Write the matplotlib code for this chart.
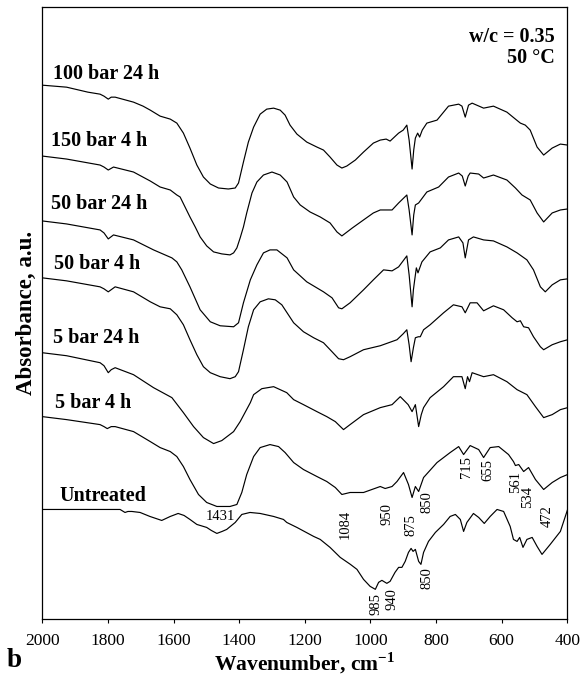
import numpy as np
import matplotlib
matplotlib.use("Agg")
import matplotlib.pyplot as plt

plt.rcParams['font.family'] = ['Liberation Serif', 'DejaVu Serif']
plt.rcParams['mathtext.fontset'] = 'custom'
plt.rcParams['mathtext.rm'] = 'Liberation Serif'
plt.rcParams['mathtext.bf'] = 'Liberation Serif:bold'

# ---------------- data (wavenumber cm-1, absorbance a.u. incl. vertical offsets) ----------
wn_100b24 = [2000, 1926, 1861, 1824, 1812, 1799, 1790, 1778, 1722, 1693, 1671, 1641, 1610, 1590,
             1570, 1550, 1529, 1509, 1488, 1463, 1433, 1412, 1402, 1387, 1372, 1356, 1336, 1316,
             1295, 1275, 1260, 1245, 1224, 1194, 1163, 1143, 1123, 1102, 1087, 1072, 1046, 1021,
             991, 970, 952, 940, 914, 900, 889, 882, 873, 868, 863, 856, 850, 842, 828, 797, 762,
             731, 721, 711, 701, 690, 655, 625, 584, 558, 543, 528, 513, 492, 472, 446, 421, 399]
ab_100b24 = [5.35, 5.33, 5.28, 5.26, 5.24, 5.21, 5.23, 5.23, 5.18, 5.14, 5.10, 5.04, 5.01, 4.97,
             4.87, 4.72, 4.55, 4.43, 4.36, 4.32, 4.31, 4.32, 4.37, 4.58, 4.78, 4.93, 5.06, 5.11,
             5.12, 5.10, 5.05, 4.95, 4.86, 4.78, 4.73, 4.70, 4.63, 4.55, 4.52, 4.54, 4.60, 4.68,
             4.77, 4.80, 4.81, 4.79, 4.87, 4.90, 4.95, 4.80, 4.51, 4.70, 4.82, 4.87, 4.83, 4.90,
             4.97, 5.00, 5.14, 5.16, 5.14, 5.03, 5.15, 5.17, 5.12, 5.14, 5.08, 5.01, 4.97, 4.95,
             4.90, 4.73, 4.65, 4.72, 4.76, 4.75]

wn_150b4 = [2000, 1926, 1824, 1812, 1799, 1783, 1722, 1671, 1641, 1610, 1590, 1580, 1565, 1550,
            1534, 1519, 1499, 1478, 1453, 1428, 1417, 1407, 1397, 1387, 1377, 1361, 1346, 1326,
            1300, 1275, 1254, 1234, 1214, 1184, 1153, 1123, 1102, 1087, 1055, 1021, 991, 970, 934,
            914, 889, 882, 873, 868, 863, 853, 828, 792, 762, 731, 720, 711, 702, 696, 670, 655,
            625, 584, 558, 538, 513, 492, 472, 446, 421, 399]
ab_150b4 = [4.64, 4.61, 4.55, 4.53, 4.50, 4.53, 4.48, 4.39, 4.33, 4.30, 4.25, 4.23, 4.13, 4.03,
            3.93, 3.83, 3.74, 3.68, 3.66, 3.65, 3.67, 3.72, 3.82, 3.93, 4.07, 4.27, 4.38, 4.45,
            4.48, 4.45, 4.38, 4.23, 4.15, 4.08, 4.03, 3.97, 3.88, 3.84, 3.92, 4.00, 4.07, 4.10, 4.10,
            4.17, 4.25, 4.10, 3.85, 4.05, 4.15, 4.17, 4.28, 4.33, 4.43, 4.47, 4.44, 4.34, 4.44, 4.47,
            4.46, 4.42, 4.45, 4.40, 4.32, 4.25, 4.20, 4.07, 3.98, 4.07, 4.10, 4.11]

wn_50b24 = [2000, 1926, 1824, 1812, 1799, 1783, 1722, 1661, 1605, 1590, 1575, 1550, 1519, 1488,
            1458, 1417, 1402, 1387, 1366, 1346, 1326, 1306, 1285, 1254, 1234, 1194, 1143, 1117,
            1097, 1087, 1062, 1021, 991, 960, 934, 914, 889, 882, 873, 869, 865, 860, 855, 843,
            818, 787, 762, 731, 718, 711, 701, 686, 655, 625, 584, 553, 523, 503, 482, 467, 446,
            421, 399]
ab_50b24 = [3.99, 3.96, 3.90, 3.87, 3.81, 3.85, 3.80, 3.70, 3.62, 3.58, 3.50, 3.33, 3.10, 2.98,
            2.94, 2.93, 2.97, 3.17, 3.40, 3.55, 3.67, 3.70, 3.70, 3.62, 3.50, 3.38, 3.28, 3.22,
            3.12, 3.11, 3.17, 3.30, 3.40, 3.50, 3.49, 3.53, 3.64, 3.45, 3.13, 3.30, 3.40, 3.52,
            3.47, 3.58, 3.68, 3.72, 3.80, 3.83, 3.77, 3.62, 3.80, 3.83, 3.80, 3.79, 3.73, 3.67,
            3.60, 3.50, 3.33, 3.28, 3.35, 3.40, 3.41]

wn_50b4 = [2000, 1926, 1824, 1812, 1799, 1778, 1722, 1671, 1641, 1610, 1590, 1570, 1550, 1529,
           1509, 1488, 1458, 1428, 1412, 1402, 1387, 1372, 1356, 1336, 1311, 1290, 1270, 1254,
           1234, 1204, 1173, 1143, 1117, 1097, 1082, 1062, 1021, 970, 919, 900, 889, 882, 876,
           869, 863, 854, 848, 838, 818, 777, 747, 721, 711, 696, 675, 655, 625, 594, 568, 553,
           543, 533, 518, 503, 482, 472, 446, 421, 399]
ab_50b4 = [3.42, 3.39, 3.33, 3.31, 3.28, 3.33, 3.28, 3.18, 3.13, 3.11, 3.05, 2.95, 2.80, 2.65,
           2.53, 2.47, 2.43, 2.41, 2.43, 2.48, 2.70, 2.93, 3.10, 3.18, 3.21, 3.20, 3.15, 3.07,
           2.97, 2.88, 2.82, 2.77, 2.68, 2.61, 2.60, 2.63, 2.70, 2.74, 2.80, 2.86, 2.90, 2.75,
           2.58, 2.72, 2.82, 2.83, 2.83, 2.90, 2.95, 3.07, 3.15, 3.13, 3.07, 3.17, 3.17, 3.09,
           3.14, 3.10, 3.02, 2.98, 2.99, 2.93, 2.92, 2.83, 2.73, 2.70, 2.75, 2.78, 2.80]

wn_5b24 = [2000, 1926, 1824, 1812, 1799, 1790, 1778, 1722, 1661, 1605, 1570, 1539, 1509, 1478,
           1453, 1417, 1397, 1366, 1356, 1331, 1295, 1255, 1234, 1204, 1163, 1133, 1107, 1082,
           1062, 1021, 970, 934, 909, 894, 885, 873, 863, 853, 845, 838, 818, 777, 747, 721, 711,
           704, 698, 690, 655, 625, 584, 553, 523, 497, 472, 446, 421, 399]
ab_5b24 = [2.67, 2.64, 2.57, 2.54, 2.47, 2.50, 2.52, 2.45, 2.32, 2.22, 2.07, 1.93, 1.82, 1.76,
           1.79, 1.88, 1.98, 2.17, 2.25, 2.31, 2.33, 2.27, 2.20, 2.15, 2.08, 2.03, 1.98, 1.90,
           1.95, 2.05, 2.12, 2.15, 2.23, 2.18, 2.15, 2.08, 2.15, 1.93, 2.05, 2.12, 2.22, 2.33,
           2.43, 2.43, 2.31, 2.43, 2.38, 2.47, 2.43, 2.45, 2.38, 2.30, 2.25, 2.13, 2.02, 2.05,
           2.10, 2.12]

wn_5b4 = [2000, 1926, 1824, 1812, 1802, 1790, 1778, 1722, 1671, 1641, 1610, 1590, 1570, 1550,
          1524, 1499, 1468, 1428, 1407, 1392, 1377, 1356, 1336, 1306, 1280, 1260, 1234, 1204,
          1163, 1133, 1107, 1087, 1062, 1021, 970, 955, 934, 919, 899, 884, 873, 863, 853, 838,
          797, 757, 731, 716, 696, 670, 655, 635, 609, 579, 564, 558, 548, 533, 518, 497, 472,
          446, 421, 399]
ab_5b4 = [2.03, 2.00, 1.95, 1.93, 1.91, 1.93, 1.93, 1.88, 1.78, 1.72, 1.68, 1.63, 1.53, 1.40,
          1.25, 1.17, 1.13, 1.13, 1.15, 1.27, 1.45, 1.63, 1.72, 1.75, 1.73, 1.67, 1.57, 1.50,
          1.43, 1.38, 1.32, 1.25, 1.27, 1.27, 1.33, 1.31, 1.33, 1.38, 1.47, 1.35, 1.22, 1.33,
          1.28, 1.42, 1.57, 1.67, 1.73, 1.65, 1.74, 1.70, 1.62, 1.72, 1.73, 1.65, 1.58, 1.54,
          1.55, 1.48, 1.52, 1.40, 1.30, 1.37, 1.42, 1.45]

wn_untr = [2000, 1763, 1748, 1739, 1727, 1702, 1672, 1636, 1610, 1586, 1568, 1550, 1529, 1499,
           1485, 1468, 1452, 1438, 1412, 1392, 1367, 1336, 1295, 1265, 1255, 1224, 1173, 1153,
           1123, 1092, 1061, 1041, 1021, 1001, 985, 975, 965, 950, 940, 925, 914, 904, 894, 884,
           876, 870, 863, 853, 846, 838, 823, 802, 777, 757, 741, 726, 716, 706, 686, 670, 653,
           635, 614, 594, 574, 564, 553, 545, 535, 523, 507, 492, 477, 452, 421, 399]
ab_untr = [1.10, 1.10, 1.07, 1.08, 1.08, 1.07, 1.03, 0.99, 1.03, 1.06, 1.04, 1.00, 0.95, 0.92,
           0.89, 0.86, 0.88, 0.90, 0.97, 1.05, 1.07, 1.06, 1.03, 1.00, 0.97, 0.92, 0.83, 0.80,
           0.72, 0.62, 0.55, 0.50, 0.40, 0.33, 0.30, 0.37, 0.39, 0.36, 0.38, 0.47, 0.52, 0.52,
           0.58, 0.67, 0.71, 0.68, 0.70, 0.58, 0.55, 0.67, 0.78, 0.87, 0.95, 1.03, 1.05, 1.00,
           0.88, 0.97, 1.06, 1.02, 0.96, 1.03, 1.10, 1.08, 0.93, 0.80, 0.78, 0.82, 0.72, 0.80,
           0.82, 0.73, 0.65, 0.75, 0.88, 1.10]

series_names = ["100 bar 24 h", "150 bar 4 h", "50 bar 24 h", "50 bar 4 h",
                "5 bar 24 h", "5 bar 4 h", "Untreated"]
series_wn = [wn_100b24, wn_150b4, wn_50b24, wn_50b4, wn_5b24, wn_5b4, wn_untr]
series_ab = [ab_100b24, ab_150b4, ab_50b24, ab_50b4, ab_5b24, ab_5b4, ab_untr]

# band annotations
band_labels = ["1431", "1084", "950", "875", "850", "715", "655", "561", "534", "472",
               "850", "985", "940"]
band_wn = [1457, 1077, 950, 877, 828, 706, 642, 558, 520, 462, 828, 982, 933]
band_y = [1.025, 0.95, 1.05, 0.94, 1.17, 1.525, 1.50, 1.38, 1.22, 1.03, 0.41, 0.15, 0.20]
band_rot = [0, 90, 90, 90, 90, 90, 90, 90, 90, 90, 90, 90, 90]

xticks = [2000, 1800, 1600, 1400, 1200, 1000, 800, 600, 400]

# ---------------- layout ----------------
fig = plt.figure(figsize=(5.82, 6.76), dpi=100)
ax = fig.add_axes([0.0727, 0.0839, 0.9020, 0.9053])

for wn, ab in zip(series_wn, series_ab):
    ax.plot(wn, ab, color='black', lw=0.85, solid_joinstyle='round')

ax.set_xlim(2000, 400)
ax.set_ylim(0.0, 6.13)
ax.set_xticks(xticks)
ax.set_xticklabels([str(t) for t in xticks])
ax.set_yticks([])
ax.tick_params(axis='x', direction='out', length=3, width=0.8, pad=7, labelsize=12.5)
for s in ax.spines.values():
    s.set_linewidth(0.9)

label_x = [1967, 1972, 1973, 1965, 1966, 1961, 1948]
label_y = [5.41, 4.74, 4.11, 3.51, 2.77, 2.12, 1.18]
for name, lx, ly in zip(series_names, label_x, label_y):
    ax.text(lx, ly, name, fontsize=14.5, fontweight='bold', ha='left', va='baseline')

for lab, bx, by, rot in zip(band_labels, band_wn, band_y, band_rot):
    ax.text(bx, by, lab, fontsize=10.5, rotation=rot, ha='center', va='center')

ax.text(0.9766, 0.944, "w/c = 0.35", transform=ax.transAxes, fontsize=14.5,
        fontweight='bold', ha='right', va='baseline')
ax.text(0.9766, 0.9085, "50 °C", transform=ax.transAxes, fontsize=14.5,
        fontweight='bold', ha='right', va='baseline')

ax.set_xlabel(r'Wavenumber, cm$^{\mathbf{-1}}$', fontsize=15.5, fontweight='bold', labelpad=1)
ax.set_ylabel('Absorbance, a.u.', fontsize=16.5, fontweight='bold', labelpad=4)

fig.text(0.012, 0.014, "b", fontsize=19.5, fontweight='bold', ha='left', va='baseline')

fig.savefig("out.png", dpi=100)
